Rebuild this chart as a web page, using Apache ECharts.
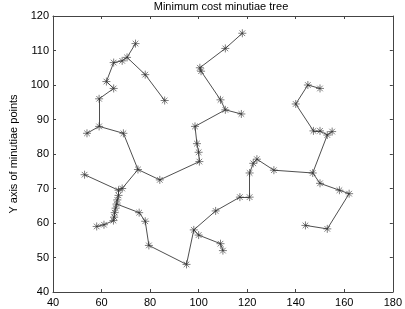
<!DOCTYPE html>
<html><head><meta charset="utf-8">
<script src="https://cdn.jsdelivr.net/npm/echarts@6/dist/echarts.min.js"></script>
<style>html,body{margin:0;padding:0;background:#fff}#c{width:405px;height:309px}</style>
</head><body><div id="c"></div>
<script>
var title = 'Minimum cost minutiae tree';
var yName = 'Y axis of minutiae points';
var xTicks = [40, 60, 80, 100, 120, 140, 160, 180];
var yTicks = [40, 50, 60, 70, 80, 90, 100, 110, 120];
var nodeX = [74, 70.5, 68.5, 65, 78, 86, 62, 65, 59, 59, 54, 69,
  75, 84, 68.5, 67, 53, 67, 66.5, 66.2, 65.8, 65.4, 65.2, 64.9, 61, 58,
  75.5, 78, 79.5, 95, 98, 100, 109, 110, 107, 117, 121, 121, 122.5, 124, 131,
  147, 150, 158, 162, 153, 144, 153, 155, 150, 147.3, 140, 145, 150,
  118, 111, 100.5, 101, 109, 111, 117.6, 98.5, 99.3, 100, 100.3];
var nodeY = [112, 108, 107, 106.5, 103, 95.5, 101, 99, 96, 88, 86, 86,
  75.5, 72.5, 70, 69.5, 74, 68, 66.7, 65.5, 64.3, 63, 61.7, 60.7, 59.5, 59,
  63, 60.5, 53.5, 48, 58, 56.5, 54, 52, 63.5, 67.5, 67.5, 74.5, 77.3, 78.5, 75.3,
  74.5, 71.5, 69.5, 68.5, 58.3, 59.3, 85.5, 86.5, 86.7, 86.7, 94.5, 100, 99,
  115, 110.6, 105, 104, 95.7, 92.8, 91.6, 88, 83, 80.5, 77.8];
var edgeFrom = [0, 1, 2, 1, 4, 3, 6, 7, 8, 9, 9, 11, 12, 12, 14, 15, 15, 17, 18, 19, 20, 21, 22, 23, 24,
  19, 26, 27, 28, 29, 30, 31, 32, 30, 34, 35, 36, 37, 38, 39, 40, 41, 42, 43, 44, 45,
  41, 47, 47, 49, 50, 51, 52, 54, 55, 56, 57, 58, 59, 59, 61, 62, 63, 64];
var edgeTo = [1, 2, 3, 4, 5, 6, 7, 8, 9, 10, 11, 12, 13, 14, 15, 16, 17, 18, 19, 20, 21, 22, 23, 24, 25,
  26, 27, 28, 29, 30, 31, 32, 33, 34, 35, 36, 37, 38, 39, 40, 41, 42, 43, 44, 45, 46,
  47, 48, 49, 50, 51, 52, 53, 55, 56, 57, 58, 59, 60, 61, 62, 63, 64, 13];

var points = nodeX.map(function (x, i) { return [x, nodeY[i]]; });
var segs = edgeFrom.map(function (a, i) {
  var b = edgeTo[i];
  return { coords: [[nodeX[a], nodeY[a]], [nodeX[b], nodeY[b]]] };
});
var font = 'Liberation Sans, Arial, sans-serif';
var axCol = '#444';
function xAx(pos, show) {
  return { type: 'value', position: pos, min: 40, max: 180, interval: 20,
    axisLine: { show: true, onZero: false, lineStyle: { color: axCol, width: 1 } },
    axisTick: { show: true, inside: true, length: 3, lineStyle: { color: axCol } },
    axisLabel: { show: show, margin: 5, color: '#000', fontSize: 11, fontFamily: font },
    splitLine: { show: false } };
}
function yAx(pos, show) {
  return { type: 'value', position: pos, min: 40, max: 120, interval: 10,
    name: show ? yName : '', nameLocation: 'middle', nameGap: 34, nameRotate: 90,
    nameTextStyle: { color: '#000', fontSize: 11, fontFamily: font },
    axisLine: { show: true, onZero: false, lineStyle: { color: axCol, width: 1 } },
    axisTick: { show: true, inside: true, length: 3, lineStyle: { color: axCol } },
    axisLabel: { show: show, margin: 4, color: '#000', fontSize: 11, fontFamily: font },
    splitLine: { show: false } };
}
var chart = echarts.init(document.getElementById('c'), null, { renderer: 'canvas' });
chart.setOption({
  animation: false,
  backgroundColor: '#fff',
  title: { text: title, left: 216, textAlign: 'center', top: 0, padding: [1, 5, 1, 5],
    textStyle: { fontSize: 11, fontWeight: 'normal', color: '#000', fontFamily: font } },
  grid: { left: 37, right: 10, top: 16, bottom: 17 },
  xAxis: [xAx('bottom', true), xAx('top', false)],
  yAxis: [yAx('left', true), yAx('right', false)],
  series: [
    { type: 'lines', coordinateSystem: 'cartesian2d', xAxisIndex: 0, yAxisIndex: 0,
      lineStyle: { color: '#222', width: 0.8, opacity: 1 }, data: segs, silent: true },
    { type: 'scatter', xAxisIndex: 0, yAxisIndex: 0, data: points,
      symbol: 'path://M0,-5L0,5M-5,0L5,0M-3.5,-3.5L3.5,3.5M-3.5,3.5L3.5,-3.5',
      symbolSize: 8,
      itemStyle: { color: 'none', borderColor: '#333', borderWidth: 0.8 } }
  ]
});
</script></body></html>
